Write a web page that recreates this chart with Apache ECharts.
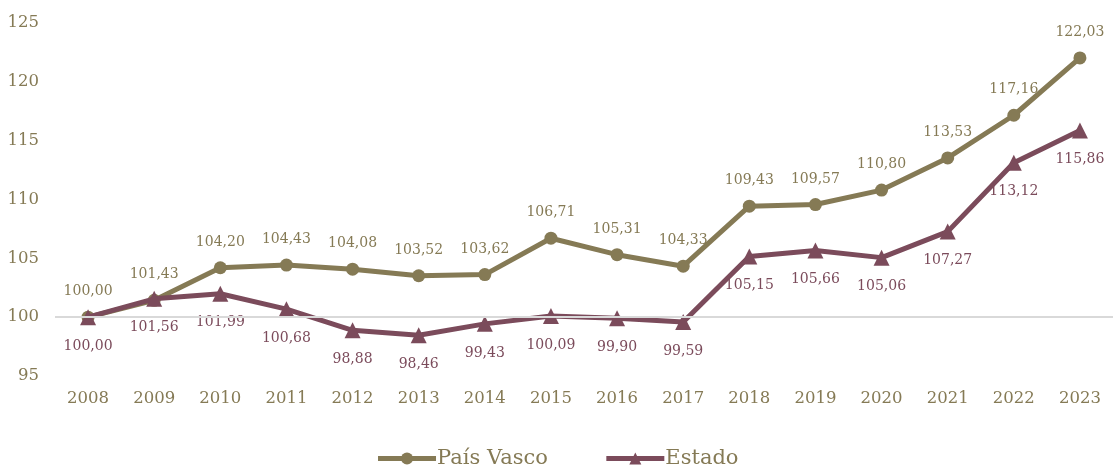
<!DOCTYPE html>
<html>
<head>
<meta charset="utf-8">
<script src="https://cdn.jsdelivr.net/npm/echarts@6/dist/echarts.min.js"></script>
<style>
  html, body { margin: 0; padding: 0; background: #fff; }
  #chart { width: 1114px; height: 473px; }
</style>
</head>
<body>
<div id="chart"></div>
<script>
const years = ['2008', '2009', '2010', '2011', '2012', '2013', '2014', '2015',
  '2016', '2017', '2018', '2019', '2020', '2021', '2022', '2023'];
const paisVasco = [100.00, 101.43, 104.20, 104.43, 104.08, 103.52, 103.62, 106.71,
  105.31, 104.33, 109.43, 109.57, 110.80, 113.53, 117.16, 122.03];
const estado = [100.00, 101.56, 101.99, 100.68, 98.88, 98.46, 99.43, 100.09,
  99.90, 99.59, 105.15, 105.66, 105.06, 107.27, 113.12, 115.86];

const OLIVE = '#857a55';
const MAROON = '#7b4b5b';
const FONT = 'DejaVu Serif';

// formato con coma decimal
const fmt = p => p.value.toFixed(2).replace('.', ',');

const chart = echarts.init(document.getElementById('chart'));
chart.setOption({
  animation: false,
  textStyle: { fontFamily: FONT },
  grid: { top: 23, bottom: 97, left: 55, right: 1 },
  legend: {
    bottom: -1,
    left: 'center',
    itemWidth: 58,
    itemHeight: 15,
    itemGap: 56,
    lineStyle: { width: 5 },
    textStyle: { color: OLIVE, fontSize: 21, fontFamily: FONT, padding: [0, 0, 0, -4] }
  },
  xAxis: {
    type: 'category',
    data: years,
    axisLine: { show: false },
    axisTick: { show: false },
    axisLabel: { color: OLIVE, fontSize: 16.5, fontFamily: FONT, margin: 14 }
  },
  yAxis: {
    type: 'value',
    min: 95,
    max: 125,
    interval: 5,
    splitLine: { show: false },
    axisLabel: { color: OLIVE, fontSize: 16.5, fontFamily: FONT, margin: 16 }
  },
  series: [
    {
      name: 'País Vasco',
      type: 'line',
      data: paisVasco,
      symbol: 'circle',
      symbolSize: 13,
      lineStyle: { color: OLIVE, width: 5 },
      itemStyle: { color: OLIVE },
      label: {
        show: true, position: 'top', distance: 12,
        color: OLIVE, fontSize: 14, fontFamily: FONT, formatter: fmt
      },
      markLine: {
        silent: true,
        symbol: 'none',
        label: { show: false },
        lineStyle: { color: '#d9d9d9', width: 2, type: 'solid' },
        data: [{ yAxis: 100 }]
      },
      z: 2
    },
    {
      name: 'Estado',
      type: 'line',
      data: estado,
      symbol: 'triangle',
      symbolSize: 16,
      lineStyle: { color: MAROON, width: 5 },
      itemStyle: { color: MAROON },
      label: {
        show: true, position: 'bottom', distance: 14,
        color: MAROON, fontSize: 14, fontFamily: FONT, formatter: fmt
      },
      z: 3
    }
  ]
});
</script>
</body>
</html>
